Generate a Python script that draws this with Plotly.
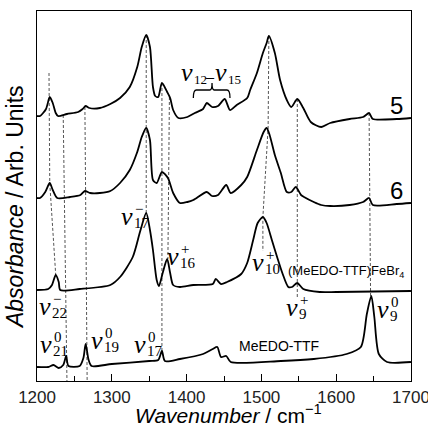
import plotly.graph_objects as go

# ---------------- data (wavenumber cm^-1, absorbance arb. units) ----------------
w5 = [1200, 1204, 1212, 1217, 1221, 1225, 1228, 1240, 1255, 1261, 1265, 1270, 1284, 1298, 1311,
      1324, 1334, 1340, 1346, 1351, 1355, 1358, 1362, 1367, 1374, 1378, 1382, 1389, 1401, 1411,
      1422, 1427, 1434, 1442, 1451, 1458, 1467, 1481, 1485, 1494, 1502, 1507, 1510, 1518, 1525,
      1534, 1540, 1548, 1556, 1566, 1580, 1592, 1618, 1636, 1644, 1649, 1681, 1700]
a5 = [265, 265, 272, 284, 278, 268, 265, 267, 269, 272, 275, 273, 273, 277, 283,
      294, 314, 334, 346, 334, 294, 285, 284, 298, 289, 283, 271, 263, 264, 268,
      272, 278, 274, 275, 282, 271, 276, 283, 291, 308, 328, 338, 345, 328, 301,
      281, 274, 282, 273, 259, 254, 258, 262, 264, 268, 262, 262, 263]

w6 = [1200, 1204, 1211, 1217, 1221, 1227, 1244, 1258, 1264, 1271, 1284, 1298, 1311, 1324, 1334,
      1340, 1346, 1351, 1355, 1360, 1367, 1375, 1382, 1391, 1401, 1409, 1427, 1434, 1442, 1453,
      1459, 1473, 1481, 1494, 1503, 1507, 1511, 1518, 1526, 1534, 1540, 1546, 1553, 1557, 1570,
      1580, 1592, 1618, 1636, 1644, 1649, 1681, 1700]
a6 = [183, 183, 189, 198, 191, 183, 184, 186, 190, 188, 188, 190, 198, 211, 229,
      244, 253, 241, 201, 198, 209, 203, 188, 178, 179, 181, 189, 185, 186, 196,
      188, 196, 204, 231, 249, 253, 246, 226, 208, 189, 189, 194, 186, 184, 179,
      176, 175, 176, 179, 183, 176, 177, 178]

wfe = [1200, 1215, 1220, 1225, 1229, 1231, 1257, 1298, 1311, 1328, 1338, 1346, 1351, 1355, 1360,
       1363, 1368, 1374, 1378, 1382, 1391, 1409, 1435, 1439, 1446, 1454, 1473, 1481, 1489, 1495,
       1502, 1507, 1514, 1521, 1528, 1536, 1541, 1548, 1556, 1578, 1600, 1700]
afe = [91, 92, 96, 106, 99, 91, 92, 96, 104, 124, 150, 168, 151, 131, 101,
       95, 108, 122, 108, 96, 94, 96, 97, 102, 97, 99, 107, 118, 141, 158,
       164, 158, 141, 124, 108, 94, 94, 98, 92, 89, 89, 90]

wme = [1200, 1215, 1222, 1229, 1235, 1239, 1242, 1257, 1262, 1265, 1269, 1273, 1300, 1350, 1362,
       1367, 1371, 1391, 1422, 1435, 1441, 1446, 1453, 1459, 1526, 1570, 1614, 1633, 1641, 1647,
       1651, 1657, 1668, 1700]
ame = [14, 14, 16, 13, 16, 25, 15, 15, 23, 37, 21, 15, 17, 20, 21,
       30, 20, 22, 27, 32, 34, 24, 25, 19, 20, 22, 27, 34, 67, 85,
       64, 27, 19, 19]

# guide lines connecting corresponding bands (wavenumber, absorbance)
guides = [
    ([1216, 1217, 1225], [308, 198, 106]),
    ([1235, 1240], [266, 0]),
    ([1264, 1267], [274, 0]),
    ([1346, 1346], [346, 168]),
    ([1367, 1367], [298, 30]),
    ([1377, 1375], [284, 122]),
    ([1510, 1509, 1502, 1502], [345, 253, 164, 130]),
    ([1548, 1548], [282, 84]),
    ([1644, 1646], [268, 85]),
]

xticks = [1200, 1300, 1400, 1500, 1600, 1700]

fig = go.Figure()
for gx, gy in guides:
    fig.add_trace(go.Scatter(x=gx, y=gy, mode="lines", hoverinfo="skip",
                             line=dict(color="#555555", width=1, dash="3px,2px"), showlegend=False))

for wx, ay in [(w5, a5), (w6, a6), (wfe, afe), (wme, ame)]:
    fig.add_trace(go.Scatter(x=wx, y=ay, mode="lines", showlegend=False,
                             line=dict(color="black", width=1.8, shape="spline", smoothing=0.7)))

SERIF = "Liberation Serif"
SANS = "Liberation Sans"
anns = []


def nu(w, a, sub, sup=None, dx=6, ss=15):
    anns.append(dict(x=w, y=a, text="<i>ν</i>", showarrow=False, xanchor="center", yanchor="middle",
                     font=dict(family=SERIF, size=26, color="black")))
    anns.append(dict(x=w, y=a, text=sub, showarrow=False, xanchor="left", yanchor="middle",
                     xshift=dx - 1, yshift=-7, font=dict(family=SERIF, size=ss, color="black")))
    if sup:
        anns.append(dict(x=w, y=a, text=sup, showarrow=False, xanchor="left", yanchor="middle",
                         xshift=dx, yshift=7, font=dict(family=SERIF, size=ss, color="black")))


nu(1320, 165, "17", "−")
nu(1382, 125, "16", "+")
nu(1495, 119, "10", "+")
nu(1541, 74, "9", "+")
nu(1211, 75, "22", "−")
nu(1212, 37, "21", "0")
nu(1280, 41, "19", "0")
nu(1338, 37, "17", "0")
nu(1663, 72, "9", "0")
nu(1400, 309, "12", ss=13)
nu(1446, 309, "15", ss=13)
anns.append(dict(x=1431, y=305, text="–", showarrow=False, font=dict(family=SERIF, size=16, color="black")))

anns.append(dict(x=1681, y=276, text="5", showarrow=False, font=dict(family=SANS, size=24, color="black")))
anns.append(dict(x=1681, y=191, text="6", showarrow=False, font=dict(family=SANS, size=24, color="black")))
anns.append(dict(x=1533, y=110, text="(MeEDO-TTF)FeBr<sub>4</sub>", showarrow=False, xanchor="left",
                 font=dict(family=SANS, size=13, color="black")))
anns.append(dict(x=1467, y=35, text="MeEDO-TTF", showarrow=False, xanchor="left",
                 font=dict(family=SANS, size=14, color="black")))
# axis titles
anns.append(dict(xref="paper", yref="paper", x=-0.059, y=0.47, textangle=-90,
                 text="<i>Absorbance</i> / Arb. Units", showarrow=False,
                 xanchor="center", yanchor="middle", font=dict(family=SANS, size=23, color="black")))
anns.append(dict(xref="paper", yref="paper", x=0.511, y=-0.089,
                 text="<i>Wavenumber</i> / cm<sup>−1</sup>", showarrow=False,
                 xanchor="center", yanchor="middle", font=dict(family=SANS, size=21, color="black")))

# curly bracket over the v12-v15 group
bx0, bx1, bm, by0, by1, byt = 1409, 1458, 1434, 283, 291, 298
fig.add_shape(type="path", xref="x", yref="y",
              path=f"M {bx0},{by0} Q {bx0},{by1} {bx0+4},{by1} L {bm-3},{by1} Q {bm},{by1} {bm},{byt} "
                   f"Q {bm},{by1} {bm+3},{by1} L {bx1-4},{by1} Q {bx1},{by1} {bx1},{by0}",
              line=dict(color="black", width=1.3))

fig.update_layout(
    width=428, height=428,
    margin=dict(l=37, r=17, t=11, b=47, autoexpand=False),
    paper_bgcolor="white", plot_bgcolor="white",
    annotations=anns,
    xaxis=dict(range=[1199.95, 1700.05], tickvals=xticks, ticks="inside", ticklen=7, tickcolor="black",
               minor=dict(dtick=50, ticks="inside", ticklen=5, tickcolor="black"),
               ticklabeloverflow="allow", automargin=False,
               showline=True, linecolor="black", linewidth=1.2, mirror=True, showgrid=False,
               zeroline=False, tickfont=dict(family=SANS, size=17, color="#222")),
    yaxis=dict(range=[0, 370], showticklabels=False, ticks="", showline=True, linecolor="black",
               linewidth=1.2, mirror=True, showgrid=False, zeroline=False, automargin=False),
)

fig.write_html("out.html", config={"displayModeBar": False},
               post_script="document.body.style.margin='0px';document.body.style.overflow='hidden';")
